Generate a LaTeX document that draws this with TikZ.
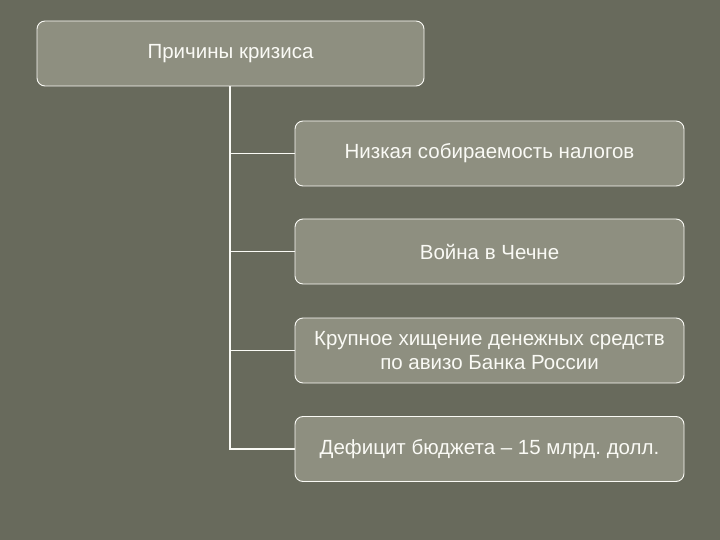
\documentclass[tikz,border=0pt]{standalone}
\usepackage{fontspec}
\setmainfont{Liberation Sans}
\frenchspacing
\definecolor{bgcol}{RGB}{104,106,92}
\definecolor{boxcol}{RGB}{142,143,128}
\definecolor{txtcol}{RGB}{250,250,245}
\begin{document}
\begin{tikzpicture}[x=1pt,y=-1pt,
  box/.style={draw=txtcol, line width=0.9pt, fill=boxcol, rounded corners=8pt, text=txtcol,
    align=center, font=\fontsize{20.5}{24.5}\selectfont, inner sep=0pt},
  conn/.style={draw=txtcol, line width=1.5pt}]
\useasboundingbox[fill=bgcol] (0,0) rectangle (720,540);
\node[box, minimum width=387pt, minimum height=65pt] (root) at (230.5,53.5) {Причины кризиса};
\node[box, minimum width=389pt, minimum height=65pt] (c1) at (489.5,153.5) {Низкая собираемость налогов};
\node[box, minimum width=389pt, minimum height=65pt] (c2) at (489.5,251.5) {Война в Чечне};
\node[box, minimum width=389pt, minimum height=65pt] (c3) at (489.5,350.5) {Крупное хищение денежных средств\\по авизо Банка России};
\node[box, minimum width=389pt, minimum height=65pt] (c4) at (489.5,449) {Дефицит бюджета -- 15 млрд. долл.};
\coordinate (b4) at (230,449);
\draw[conn] (root.south -| b4) -- (b4) -- (c4.west);
\draw[conn] (c1.west -| b4) -- (c1.west);
\draw[conn] (c2.west -| b4) -- (c2.west);
\draw[conn] (c3.west -| b4) -- (c3.west);
\end{tikzpicture}
\end{document}
